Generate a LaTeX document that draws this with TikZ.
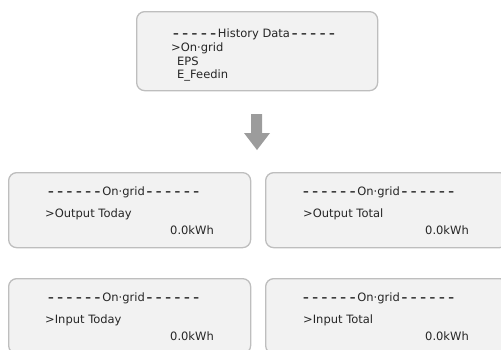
\documentclass[tikz,border=0pt]{standalone}
\usepackage{fontspec}
\setmainfont{DejaVu Sans}
\usetikzlibrary{positioning}

\definecolor{screenfill}{HTML}{F2F2F2}
\definecolor{screenline}{HTML}{BEBEBE}
\definecolor{arrowgray}{HTML}{9C9C9C}
\newcommand{\dsh}{\kern1.8pt\textbf{–}\kern1.8pt}

\begin{document}
\begin{tikzpicture}[x=1pt, y=-1pt,
    screen/.style={draw=screenline, fill=screenfill, line width=1.3pt,
      rounded corners=8pt, anchor=north west, inner sep=0pt,
      minimum width=242pt, minimum height=75pt},
    lcd/.style={anchor=base west, inner sep=0pt,
      font=\fontsize{11.5}{13}\selectfont, text=black!85}]
    \useasboundingbox (0,0) rectangle (501,349);
    \clip (0,0) rectangle (501,349);

    % menu screen
    \node[screen, minimum width=241pt, minimum height=79pt] (hist) at (136,11) {};
    \node[lcd] (histT) at (171,37) {\dsh\dsh\dsh\dsh\dsh History Data\dsh\dsh\dsh\dsh\dsh};
    \node[lcd] (ongrid) at (171,51) {>On·grid};
    \node[lcd] (eps) at (177,65) {EPS};
    \node[lcd] (feed) at (177,78) {E\_Feedin};

    % down arrow
    \fill[arrowgray] (251,114) -- (262,114) -- (262,133) -- (270,133)
      -- (257,150) -- (244,133) -- (251,133) -- cycle;

    % on-grid screens
    \node[screen] (outT) at (8,172) {};
    \node[screen] (outA) at (265,172) {};
    \node[screen] (inT) at (8,278) {};
    \node[screen] (inA) at (265,278) {};

    \node[lcd] (outTh) at (46,195) {\dsh\dsh\dsh\dsh\dsh\dsh On·grid\dsh\dsh\dsh\dsh\dsh\dsh};
    \node[lcd] (outTl) at (45,217) {>Output Today};
    \node[lcd] (outTv) at (170,234) {0.0kWh};

    \node[lcd] (outAh) at (301,195) {\dsh\dsh\dsh\dsh\dsh\dsh On·grid\dsh\dsh\dsh\dsh\dsh\dsh};
    \node[lcd] (outAl) at (303,217) {>Output Total};
    \node[lcd] (outAv) at (425,234) {0.0kWh};

    \node[lcd] (inTh) at (46,301) {\dsh\dsh\dsh\dsh\dsh\dsh On·grid\dsh\dsh\dsh\dsh\dsh\dsh};
    \node[lcd] (inTl) at (45,323) {>Input Today};
    \node[lcd] (inTv) at (170,340) {0.0kWh};

    \node[lcd] (inAh) at (301,301) {\dsh\dsh\dsh\dsh\dsh\dsh On·grid\dsh\dsh\dsh\dsh\dsh\dsh};
    \node[lcd] (inAl) at (303,323) {>Input Total};
    \node[lcd] (inAv) at (425,340) {0.0kWh};
\end{tikzpicture}
\end{document}
